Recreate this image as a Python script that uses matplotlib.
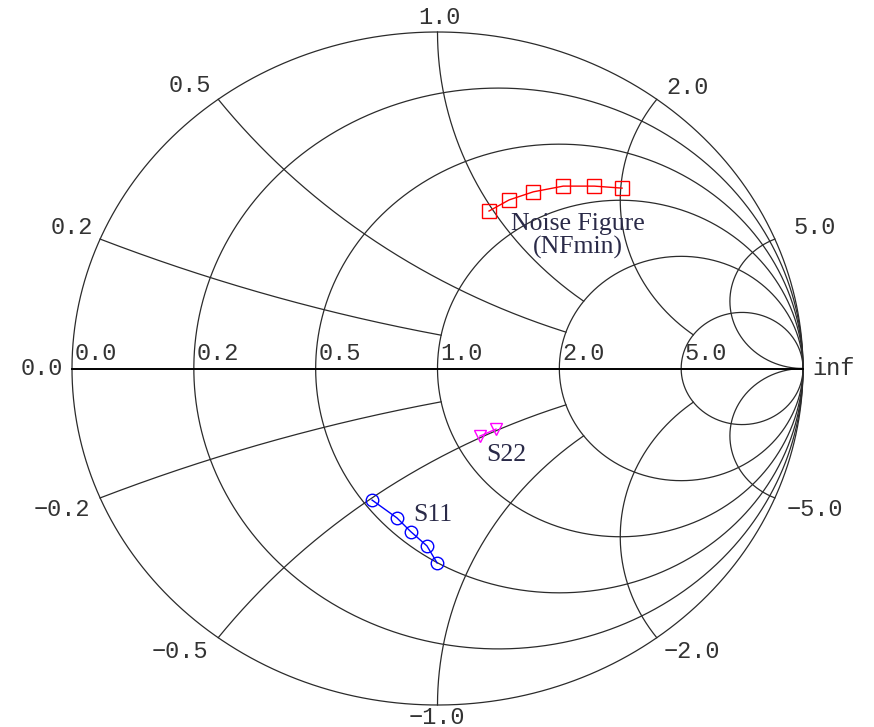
import numpy as np
import matplotlib
matplotlib.use("Agg")
import matplotlib.pyplot as plt

# Smith chart grid values
resistances = [0.2, 0.5, 1.0, 2.0, 5.0]
reactances = [0.2, 0.5, 1.0, 2.0, 5.0]
reactance_rmax = [1.0, 2.0, 2.0, 5.0, np.inf]

# measured traces, reflection coefficient (real, imag)
nf_re = [0.141, 0.196, 0.262, 0.344, 0.429, 0.505]
nf_im = [0.468, 0.501, 0.525, 0.542, 0.542, 0.536]
s22_re = [0.116, 0.160]
s22_im = [-0.201, -0.180]
s11_re = [-0.179, -0.111, -0.073, -0.029, -0.001]
s11_im = [-0.391, -0.444, -0.485, -0.527, -0.578]

# outer labels (text, pixel x, pixel y)
outer_labels = [
    ("1.0", 439, 17), ("0.5", 190, 86), ("2.0", 688, 87),
    ("0.2", 72, 228), ("5.0", 815, 228), ("0.0", 42, 368),
    ("inf", 834, 368), ("\u22120.2", 62, 510), ("\u22125.0", 815, 510),
    ("\u22120.5", 180, 651), ("\u22122.0", 692, 651), ("\u22121.0", 437, 717),
]
axis_labels = ["0.0", "0.2", "0.5", "1.0", "2.0", "5.0"]
axis_values = [0.0, 0.2, 0.5, 1.0, 2.0, 5.0]

W, H = 874, 727
CX, CY, RX, RY = 437.5, 368.5, 365.5, 336.5


def gamma(z):
    return (z - 1) / (z + 1)


fig = plt.figure(figsize=(W / 100, H / 100), dpi=100)
ax = fig.add_axes([0, 0, 1, 1])
ax.set_xlim((0 - CX) / RX, (W - CX) / RX)
ax.set_ylim((CY - H) / RY, CY / RY)
ax.axis("off")

grid = dict(color="#2b2b2b", lw=0.9)

# outer circle
t = np.linspace(0, 2 * np.pi, 800)
ax.plot(np.cos(t), np.sin(t), **grid)

# resistance circles
xs = np.tan(np.linspace(-np.pi / 2 + 1e-4, np.pi / 2 - 1e-4, 2000))
for r in resistances:
    g = gamma(r + 1j * xs)
    ax.plot(g.real, g.imag, **grid)

# reactance arcs, truncated at a resistance circle
for x, rmax in zip(reactances, reactance_rmax):
    if np.isinf(rmax):
        rs = np.tan(np.linspace(0, np.pi / 2 - 1e-4, 1500))
    else:
        rs = np.linspace(0, rmax, 1500)
    for sgn in (1, -1):
        g = gamma(rs + 1j * sgn * x)
        ax.plot(g.real, g.imag, **grid)

# real axis
ax.plot([-1, 1], [0, 0], color="black", lw=1.4)

# traces
ax.plot(nf_re, nf_im, color="red", lw=1.0, marker="s", ms=9.5,
        mfc="none", mec="red", mew=1.0)
ax.plot(s22_re, s22_im, color="magenta", lw=1.0, marker="v", ms=9,
        mfc="none", mec="magenta", mew=1.0)
ax.plot(s11_re, s11_im, color="blue", lw=1.0, marker="o", ms=9,
        mfc="none", mec="blue", mew=1.0)

lab = dict(family="Liberation Mono", fontsize=17, color="#333333")
for txt, px, py in outer_labels:
    fig.text(px / W, 1 - py / H, txt, ha="center", va="center", **lab)

for txt, v in zip(axis_labels, axis_values):
    u = (v - 1) / (v + 1)
    ax.text(u + 0.008, 0.01, txt, ha="left", va="bottom", **lab)

serif = dict(family="Liberation Serif", fontsize=18.5, color="#2a2a48")
fig.text(578 / W, 1 - 236 / H, "Noise Figure\n(NFmin)", ha="center",
         va="center", linespacing=1.0, **serif)
fig.text(506 / W, 1 - 455 / H, "S22", ha="center", va="center", **serif)
fig.text(433 / W, 1 - 515 / H, "S11", ha="center", va="center", **serif)

fig.savefig("out.png", dpi=100)
